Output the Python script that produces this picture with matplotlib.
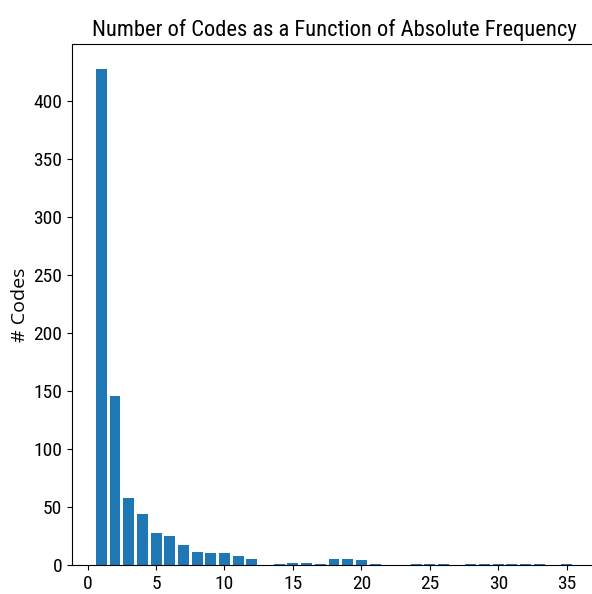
import matplotlib
matplotlib.use('Agg')
import matplotlib.pyplot as plt

# === Frequenze assolute e numero di codici ===
frequency = [1, 2, 3, 4, 5, 6, 7, 8, 9, 10, 11, 12,
             14, 15, 16, 17, 18, 19, 20, 21,
             24, 25, 26, 28, 29, 30, 31, 32, 33, 35]
n_codes = [428, 146, 58, 44, 28, 25, 17, 11, 10, 10, 8, 5,
           1, 2, 2, 1, 5, 5, 4, 1,
           1, 1, 1, 1, 1, 1, 1, 1, 1, 1]

narrow = ['Roboto Condensed', 'DejaVu Sans']

fig = plt.figure(figsize=(5.92, 5.94), dpi=100)
ax = fig.add_axes([72/592, 1 - 565/594, (596 - 72)/592, (565 - 44)/594])
ax.bar(frequency, n_codes, color='#1f77b4')
ax.set_ylabel('# Codes', fontsize=14, family=['Open Sans', 'DejaVu Sans'], labelpad=3)
ax.set_title('Number of Codes as a Function of Absolute Frequency',
             fontsize=16.2, family=narrow, fontweight='normal')
ax.set_xticks([0, 5, 10, 15, 20, 25, 30, 35])
for lab in ax.get_xticklabels() + ax.get_yticklabels():
    lab.set_fontfamily(narrow)
    lab.set_fontweight('normal')
    lab.set_fontsize(14)

fig.savefig('out.png', dpi=100)
